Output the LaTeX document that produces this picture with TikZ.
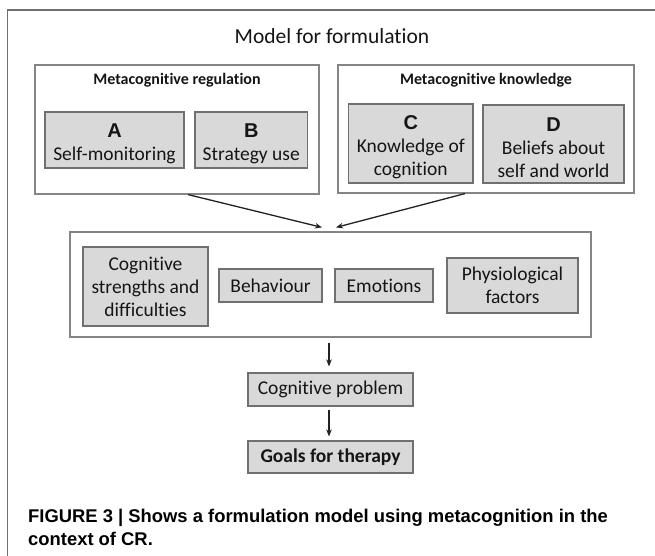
\documentclass[tikz,border=0pt]{standalone}
\usepackage{fontspec}
\setmainfont{Carlito}[Ligatures={NoCommon,NoContextual}]
\newfontfamily\arialfont{Liberation Sans}
\usetikzlibrary{arrows.meta,calc}
\definecolor{gfill}{HTML}{D9D9D9}
\definecolor{gline}{HTML}{707070}
\definecolor{wline}{HTML}{858585}
\definecolor{framec}{HTML}{707070}
\definecolor{arrc}{HTML}{222222}
\definecolor{txtc}{HTML}{151515}
\newcommand{\lettr}[1]{{\arialfont\bfseries\fontsize{20}{23.5}\selectfont\rule{0pt}{21.5pt}#1}}
\begin{document}
\begin{tikzpicture}[x=1pt,y=-1pt,
  wbox/.style={draw=wline,line width=1.2pt,fill=white,inner sep=0pt},
  gbox/.style={draw=gline,line width=1.1pt,fill=gfill,inner sep=0pt,align=center,
    text=txtc,font=\fontsize{19.5}{23}\selectfont},
  headtxt/.style={inner sep=0pt,text=txtc,font=\bfseries\fontsize{16}{19}\selectfont},
  titletxt/.style={inner sep=0pt,text=txtc,font=\fontsize{21.5}{26}\selectfont},
  captxt/.style={inner sep=0pt,text=black,font=\arialfont\bfseries\fontsize{18.4}{23}\selectfont},
  arr/.style={draw=arrc,line width=1.3pt,-{Stealth[length=7pt,width=5.5pt]}}]
\useasboundingbox (0,0) rectangle (655,556);
\fill[white] (0,0) rectangle (655,556);
% outer frame (top and left edges)
\coordinate (fTR) at (655,10);
\coordinate (fTL) at (7.5,10);
\coordinate (fBL) at (7.5,556);
\draw[framec,line width=1.5pt] (fTR) -- (fTL) -- (fBL);

\node[titletxt] (title) at (332,36) {Model for formulation};

% metacognitive regulation
\node[wbox,minimum width=284pt,minimum height=129pt] (reg) at (177,129.5) {};
\node[headtxt] (regT) at (177,80) {Metacognitive regulation};
\node[gbox,minimum width=139pt,minimum height=56pt] (A) at (114.5,140) {\lettr{A}\\Self-monitoring};
\node[gbox,minimum width=112.5pt,minimum height=56pt] (B) at (251.25,140) {\lettr{B}\\Strategy use};

% metacognitive knowledge
\node[wbox,minimum width=296pt,minimum height=128pt] (know) at (486,129) {};
\node[headtxt] (knowT) at (486,80) {Metacognitive knowledge};
\node[gbox,minimum width=124.5pt,minimum height=79pt] (C) at (410.75,143.5) {\lettr{C}\\Knowledge of\\cognition};
\node[gbox,minimum width=141pt,minimum height=78pt] (D) at (553.5,144) {\lettr{D}\\Beliefs about\\self and world};

% middle box
\node[wbox,minimum width=521pt,minimum height=105pt] (mid) at (330.5,284.5) {};
\node[gbox,minimum width=125pt,minimum height=79pt] (cog) at (145.5,286.5) {Cognitive\\strengths and\\difficulties};
\node[gbox,minimum width=103pt,minimum height=33pt] (beh) at (270.5,285.5) {Behaviour};
\node[gbox,minimum width=98pt,minimum height=33pt] (emo) at (384,285.5) {Emotions};
\node[gbox,minimum width=131pt,minimum height=55pt] (phy) at (512.5,285.5) {Physiological\\factors};

% lower chain
\node[gbox,minimum width=165pt,minimum height=33pt] (prob) at (330.5,389.5) {Cognitive problem};
\node[gbox,minimum width=165pt,minimum height=32pt,font=\bfseries\fontsize{19.5}{23}\selectfont] (goals) at (330.5,457) {Goals for therapy};

% arrows
\coordinate (sL) at ($(reg.south west)!0.539!(reg.south east)$);
\coordinate (sR) at ($(know.south west)!0.429!(know.south east)$);
\coordinate (tL) at ($(mid.north)+(-8.5,-4)$);
\coordinate (tR) at ($(mid.north)+(5.5,-4)$);
\draw[arr] (sL) -- (tL);
\draw[arr] (sR) -- (tR);
\draw[arr,shorten <=5pt,shorten >=6pt] ([xshift=-1.5pt]mid.south) -- ([xshift=-1.5pt]prob.north);
\draw[arr,shorten <=3pt,shorten >=4pt] ([xshift=-1.5pt]prob.south) -- ([xshift=-1.5pt]goals.north);

% caption
\node[captxt,anchor=base west] (cap1) at (28,522) {FIGURE 3 | Shows a formulation model using metacognition in the};
\node[captxt,anchor=base west] (cap2) at (28,545) {context of CR.};
\end{tikzpicture}
\end{document}
